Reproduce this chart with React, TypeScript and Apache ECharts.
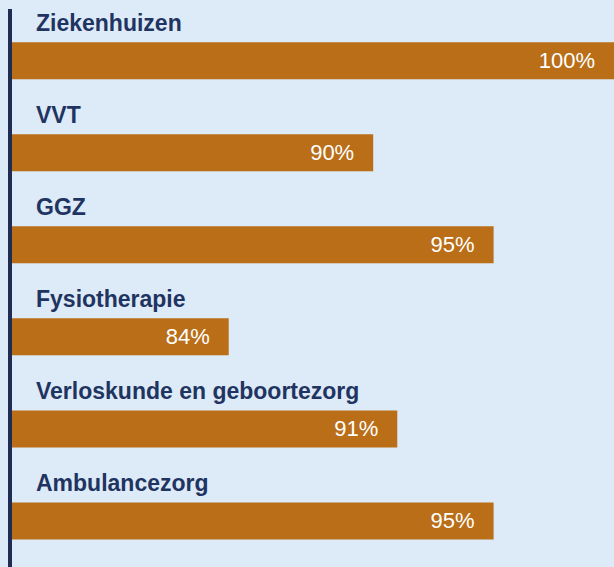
import React, { useEffect, useRef } from "react";
import * as echarts from "echarts";

const categories = [
  "Ziekenhuizen",
  "VVT",
  "GGZ",
  "Fysiotherapie",
  "Verloskunde en geboortezorg",
  "Ambulancezorg",
];
const values = [100, 90, 95, 84, 91, 95];

const BG = "#ddeaf7";
const BAR = "#b96e17";
const NAVY = "#1f3461";

export default function App() {
  const ref = useRef<HTMLDivElement>(null);
  useEffect(() => {
    if (!ref.current) return;
    const chart = echarts.init(ref.current, null, { renderer: "svg" });
    chart.setOption({
      animation: false,
      backgroundColor: BG,
      grid: { left: 12, width: 607, top: 14.6, height: 553.2, containLabel: false },
      xAxis: {
        type: "value",
        min: 75,
        max: 100,
        show: false,
      },
      yAxis: {
        type: "category",
        data: categories,
        inverse: true,
        axisLine: { show: false },
        axisTick: { show: false },
        axisLabel: { show: false },
        splitLine: { show: false },
      },
      graphic: [
        {
          type: "rect",
          shape: { x: 8, y: 9, width: 4, height: 560 },
          style: { fill: "#1f2d55" },
          z: 10,
        },
      ],
      series: [
        {
          type: "bar",
          data: values,
          barWidth: 37,
          itemStyle: { color: BAR },
          clip: true,
          label: {
            show: true,
            position: "insideRight",
            distance: 19,
            formatter: (p: any) => `${p.value}%`,
            color: "#ffffff",
            fontFamily: "Liberation Sans, Arial, sans-serif",
            fontSize: 22,
            fontWeight: "normal",
          },
        },
        {
          type: "bar",
          data: values,
          barWidth: 37,
          barGap: "-100%",
          clip: true,
          itemStyle: { color: "rgba(0,0,0,0)" },
          silent: true,
          label: {
            show: true,
            position: [24, -19],
            align: "left",
            verticalAlign: "middle",
            formatter: "{b}",
            color: NAVY,
            fontFamily: "Liberation Sans, Arial, sans-serif",
            fontSize: 23,
            fontWeight: "bold",
          },
        },
      ],
    });
    return () => chart.dispose();
  }, []);
  return (
    <div
      ref={ref}
      style={{ position: "absolute", left: 0, top: 0, width: 614, height: 567 }}
    />
  );
}
